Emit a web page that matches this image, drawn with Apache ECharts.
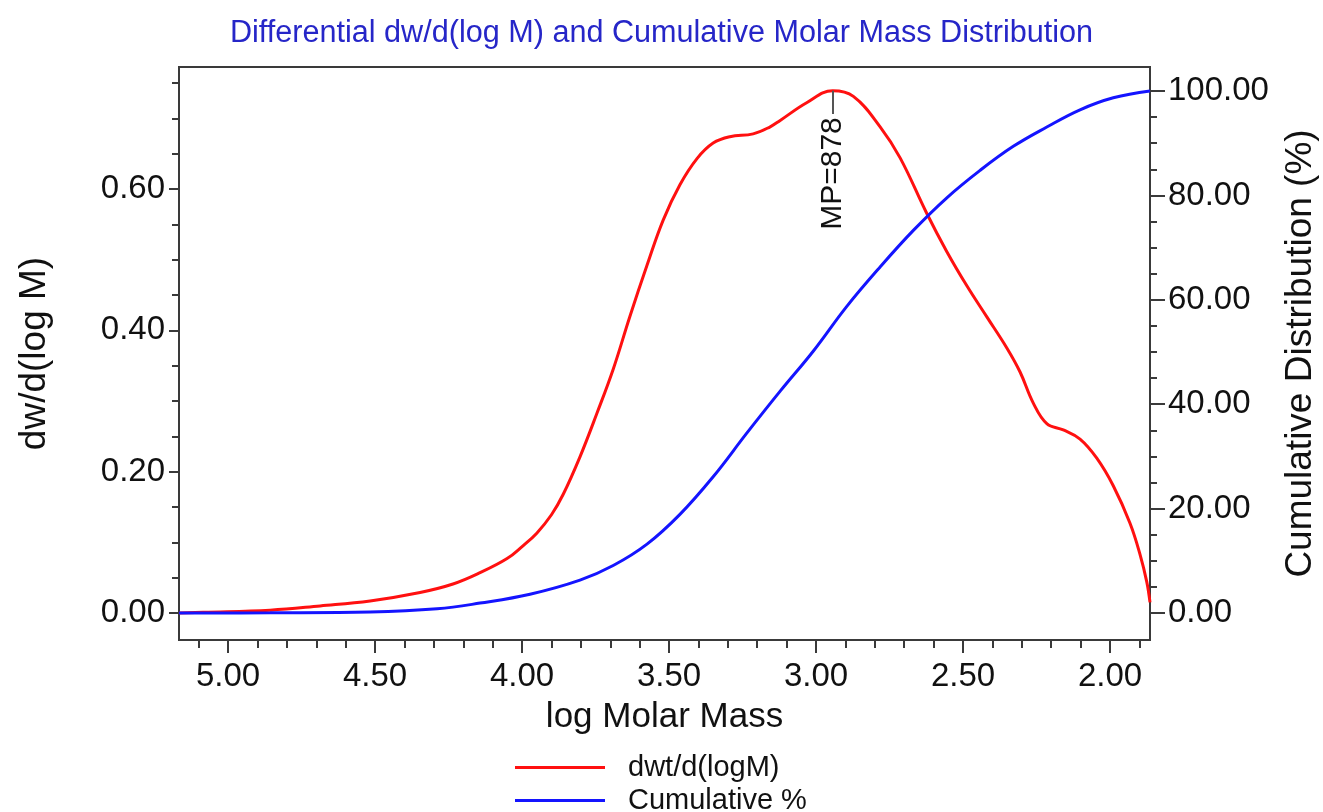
<!DOCTYPE html>
<html>
<head>
<meta charset="utf-8">
<script src="https://cdn.jsdelivr.net/npm/echarts@6/dist/echarts.min.js"></script>
<style>
	html, body { margin: 0; padding: 0; background: #fff; }
	#chart { width: 1323px; height: 812px; }
</style>
</head>
<body>
<div id="chart"></div>
<script>
// log molar mass (x) and dw/d(logM) (red curve)
const diffLogM = [5.167, 5.085, 4.857, 4.687, 4.517, 4.347, 4.235, 4.143, 4.051, 4.000, 3.950, 3.900, 3.860, 3.803, 3.745, 3.690, 3.633, 3.575, 3.520, 3.463, 3.405, 3.350, 3.293, 3.214, 3.156, 3.122, 3.032, 2.9435, 2.873, 2.782, 2.714, 2.624, 2.556, 2.487, 2.419, 2.351, 2.306, 2.261, 2.215, 2.159, 2.102, 2.045, 1.989, 1.932, 1.898, 1.875, 1.864]
const diffValues = [0.000, 0.001, 0.004, 0.010, 0.017, 0.029, 0.041, 0.057, 0.077, 0.094, 0.113, 0.139, 0.168, 0.221, 0.283, 0.345, 0.420, 0.492, 0.556, 0.606, 0.643, 0.665, 0.674, 0.678, 0.688, 0.697, 0.722, 0.739, 0.731, 0.688, 0.644, 0.566, 0.512, 0.463, 0.419, 0.375, 0.341, 0.297, 0.268, 0.259, 0.246, 0.219, 0.180, 0.127, 0.083, 0.044, 0.015]

// cumulative % (blue curve)
const cumLogM = [5.167, 4.857, 4.517, 4.289, 4.143, 3.973, 3.803, 3.690, 3.575, 3.463, 3.350, 3.235, 3.122, 3.009, 2.896, 2.782, 2.669, 2.556, 2.442, 2.329, 2.215, 2.102, 1.989, 1.864]
const cumValues = [0.0, 0.05, 0.2, 0.8, 1.9, 3.6, 6.3, 9.1, 13.2, 18.9, 26.1, 34.5, 42.5, 50.2, 58.7, 66.3, 73.3, 79.5, 84.8, 89.4, 93.1, 96.4, 98.7, 100.0]

// peak annotation
const peakLogM = 2.9435
const peakValue = 0.739
const peakLabel = 'MP=878'

// axis ticks
const xMajorTicks = [2.0, 2.5, 3.0, 3.5, 4.0, 4.5, 5.0]
const xMinorTicks = [1.9, 2.1, 2.2, 2.3, 2.4, 2.6, 2.7, 2.8, 2.9, 3.1, 3.2, 3.3, 3.4, 3.6, 3.7, 3.8, 3.9, 4.1, 4.2, 4.3, 4.4, 4.6, 4.7, 4.8, 4.9, 5.1]
const leftMajorTicks = [0, 0.2, 0.4, 0.6]
const leftMinorTicks = [0.05, 0.1, 0.15, 0.25, 0.3, 0.35, 0.45, 0.5, 0.55, 0.65, 0.7, 0.75]
const rightMajorTicks = [0, 20, 40, 60, 80, 100]
const rightMinorTicks = [5, 10, 15, 25, 30, 35, 45, 50, 55, 65, 70, 75, 85, 90, 95]

const xRange = [1.864, 5.167]
const leftRange = [-0.0382, 0.7726]
const rightRange = [-5.17, 104.6]

const font = '"Liberation Sans", Arial, sans-serif'
const axisColor = '#3a3a3a'
const textColor = '#111'

let myChart = echarts.init(document.getElementById('chart'))

const minorX = {
	type: 'value',
	min: xRange[0],
	max: xRange[1],
	inverse: true,
	position: 'bottom',
	axisLine: { show: false, onZero: false },
	axisLabel: { show: false },
	splitLine: { show: false },
	axisTick: {
		show: true,
		length: 8,
		customValues: xMinorTicks,
		lineStyle: { color: axisColor, width: 2 }
	}
}

function minorY(range, pos, ticks) {
	return {
		type: 'value',
		min: range[0],
		max: range[1],
		position: pos,
		axisLine: { show: false, onZero: false },
		axisLabel: { show: false },
		splitLine: { show: false },
		axisTick: {
			show: true,
			length: 7,
			customValues: ticks,
			lineStyle: { color: axisColor, width: 2 }
		}
	}
}

function legendFor(name, top) {
	return {
		orient: 'horizontal',
		left: 510,
		top: top,
		icon: 'rect',
		itemWidth: 90,
		itemHeight: 3,
		textStyle: {
			fontFamily: font,
			fontSize: 29,
			color: textColor,
			padding: [0, 0, 0, 18]
		},
		data: [name]
	}
}

let option = {
	backgroundColor: '#ffffff',
	animation: false,
	title: {
		text: 'Differential dw/d(log M) and Cumulative Molar Mass Distribution',
		left: 'center',
		top: 13,
		textStyle: {
			color: '#2626c8',
			fontSize: 30.6,
			fontWeight: 'normal',
			fontFamily: font
		}
	},
	legend: [legendFor('dwt/d(logM)', 748), legendFor('Cumulative %', 781)],
	grid: {
		left: 179,
		top: 67,
		width: 971,
		height: 573,
		outerBoundsMode: 'none',
		containLabel: false,
		show: true,
		borderColor: axisColor,
		borderWidth: 2
	},
	xAxis: [
		{
			type: 'value',
			min: xRange[0],
			max: xRange[1],
			inverse: true,
			position: 'bottom',
			name: 'log Molar Mass',
			nameLocation: 'middle',
			nameGap: 60,
			nameTextStyle: { fontFamily: font, fontSize: 35, color: textColor },
			axisLine: { show: true, onZero: false, lineStyle: { color: axisColor, width: 2 } },
			axisTick: {
				show: true,
				length: 13,
				customValues: xMajorTicks,
				lineStyle: { color: axisColor, width: 2 }
			},
			axisLabel: {
				customValues: xMajorTicks,
				margin: 20,
				fontFamily: font,
				fontSize: 33,
				color: textColor,
				formatter: (v) => v.toFixed(2)
			},
			splitLine: { show: false }
		},
		minorX
	],
	yAxis: [
		{
			type: 'value',
			min: leftRange[0],
			max: leftRange[1],
			position: 'left',
			name: 'dw/d(log M)',
			nameLocation: 'middle',
			nameRotate: 90,
			nameGap: 126,
			nameTextStyle: { fontFamily: font, fontSize: 37, color: textColor },
			axisLine: { show: true, onZero: false, lineStyle: { color: axisColor, width: 2 } },
			axisTick: {
				show: true,
				length: 10,
				customValues: leftMajorTicks,
				lineStyle: { color: axisColor, width: 2 }
			},
			axisLabel: {
				customValues: leftMajorTicks,
				margin: 14,
				fontFamily: font,
				fontSize: 33,
				color: textColor,
				formatter: (v) => v.toFixed(2)
			},
			splitLine: { show: false }
		},
		minorY(leftRange, 'left', leftMinorTicks),
		{
			type: 'value',
			min: rightRange[0],
			max: rightRange[1],
			position: 'right',
			name: 'Cumulative Distribution (%)',
			nameLocation: 'middle',
			nameRotate: 90,
			nameGap: 132,
			nameTextStyle: { fontFamily: font, fontSize: 37, color: textColor },
			axisLine: { show: true, onZero: false, lineStyle: { color: axisColor, width: 2 } },
			axisTick: {
				show: true,
				length: 15,
				customValues: rightMajorTicks,
				lineStyle: { color: axisColor, width: 2 }
			},
			axisLabel: {
				customValues: rightMajorTicks,
				margin: 18,
				fontFamily: font,
				fontSize: 33,
				color: textColor,
				formatter: (v) => v.toFixed(2)
			},
			splitLine: { show: false }
		},
		minorY(rightRange, 'right', rightMinorTicks)
	],
	series: [
		{
			name: 'dwt/d(logM)',
			type: 'line',
			xAxisIndex: 0,
			yAxisIndex: 0,
			smooth: 0.4,
			symbol: 'none',
			lineStyle: { color: '#ff1010', width: 3 },
			itemStyle: { color: '#ff1010' },
			data: diffLogM.map((x, i) => [x, diffValues[i]]),
			markLine: {
				silent: true,
				symbol: 'none',
				label: { show: false },
				lineStyle: { color: '#555', width: 2, type: 'solid' },
				data: [[{ coord: [peakLogM, peakValue] }, { coord: [peakLogM, peakValue - 0.033] }]]
			},
			markPoint: {
				silent: true,
				symbol: 'circle',
				symbolSize: 1,
				itemStyle: { color: 'rgba(0,0,0,0)' },
				label: {
					show: true,
					position: 'bottom',
					distance: 26,
					rotate: 90,
					align: 'right',
					verticalAlign: 'middle',
					fontFamily: font,
					fontSize: 30,
					color: textColor,
					formatter: peakLabel
				},
				data: [{ coord: [peakLogM, peakValue] }]
			}
		},
		{
			name: 'Cumulative %',
			type: 'line',
			xAxisIndex: 0,
			yAxisIndex: 2,
			smooth: 0.4,
			symbol: 'none',
			lineStyle: { color: '#1414ff', width: 3 },
			itemStyle: { color: '#1414ff' },
			data: cumLogM.map((x, i) => [x, cumValues[i]])
		}
	]
}
myChart.setOption(option)
</script>
</body>
</html>
